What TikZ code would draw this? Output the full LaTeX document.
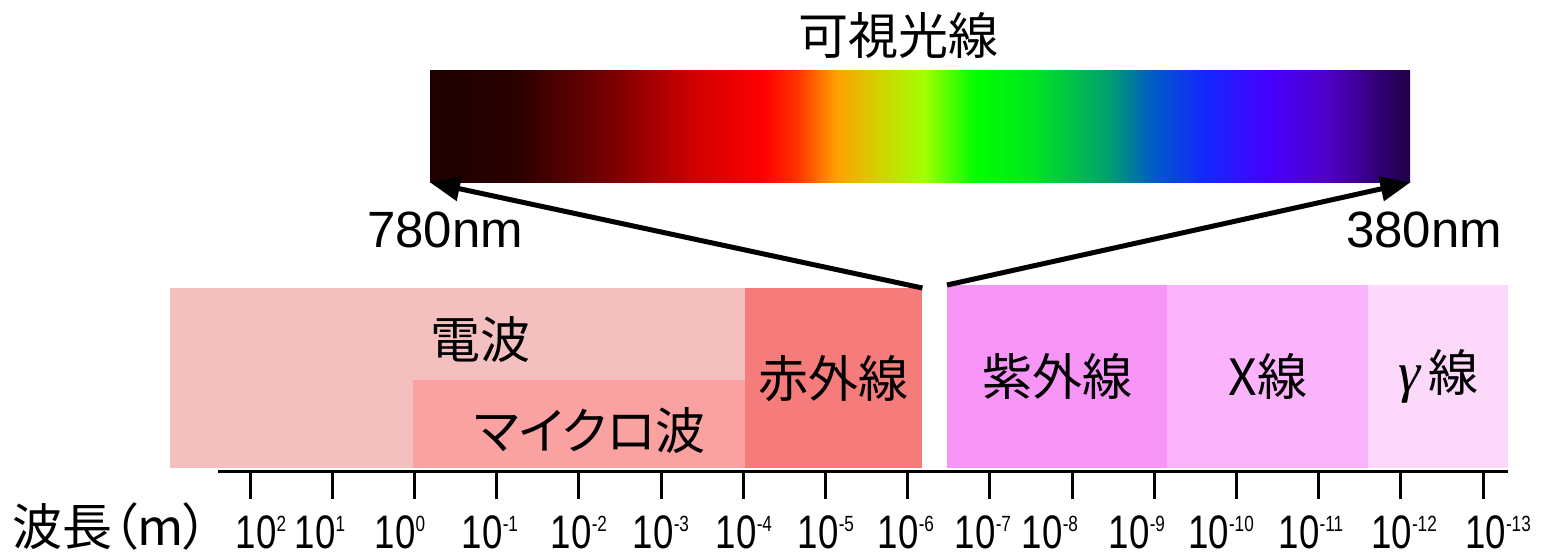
\documentclass[tikz,border=0pt]{standalone}
\usepackage{fontspec}
\setmainfont{Liberation Sans}
\newfontfamily\jp[RawFeature=+palt]{Noto Sans CJK JP}
\newfontfamily\narrowsans[FakeStretch=0.78]{Liberation Sans}
\newfontfamily\serifgk{Liberation Serif}
\usetikzlibrary{arrows.meta}

\definecolor{s0}{RGB}{30,0,0}
\definecolor{s1}{RGB}{42,0,0}
\definecolor{s2}{RGB}{120,0,0}
\definecolor{s3}{RGB}{210,0,0}
\definecolor{s4}{RGB}{255,0,0}
\definecolor{s5}{RGB}{255,50,0}
\definecolor{s6}{RGB}{255,160,0}
\definecolor{s7}{RGB}{210,210,0}
\definecolor{s8}{RGB}{160,255,0}
\definecolor{s9}{RGB}{0,255,0}
\definecolor{s10}{RGB}{0,230,30}
\definecolor{s11}{RGB}{0,160,110}
\definecolor{s12}{RGB}{0,90,200}
\definecolor{s13}{RGB}{20,40,255}
\definecolor{s14}{RGB}{70,0,255}
\definecolor{s15}{RGB}{80,0,200}
\definecolor{s16}{RGB}{50,0,120}
\definecolor{s17}{RGB}{30,0,70}

\pgfdeclarehorizontalshading{spectrum}{100bp}{%
color(0bp)=(s0); color(25bp)=(s0); color(29.4bp)=(s1); color(34.2bp)=(s2);
color(38.5bp)=(s3); color(42bp)=(s4); color(43.7bp)=(s5); color(45.7bp)=(s6);
color(47.9bp)=(s7); color(50.2bp)=(s8); color(52.8bp)=(s9); color(55.7bp)=(s10);
color(59.6bp)=(s11); color(61.9bp)=(s12); color(64.5bp)=(s13); color(67.8bp)=(s14);
color(70.7bp)=(s15); color(73.3bp)=(s16); color(75bp)=(s17); color(100bp)=(s17)}

\definecolor{radio}{RGB}{244,191,191}
\definecolor{micro}{RGB}{250,161,161}
\definecolor{infra}{RGB}{246,123,123}
\definecolor{uv}{RGB}{247,149,247}
\definecolor{xray}{RGB}{251,180,251}
\definecolor{gray1}{RGB}{252,217,251}

\tikzset{
  band/.style={draw=none, inner sep=0pt, anchor=north west, text=black,
    font=\jp\fontsize{50}{50}\selectfont},
  jplabel/.style={inner sep=0pt, text=black, font=\jp\fontsize{50}{50}\selectfont},
  nmlabel/.style={inner sep=0pt, text=black, font=\fontsize{51}{51}\selectfont},
  arr/.style={line width=5pt, -{Triangle[length=30pt,width=24pt]}},
  tickmark/.style={line width=3pt},
  axisline/.style={line width=3pt},
  numlab/.style={inner sep=0pt, anchor=base, font=\narrowsans\fontsize{47}{47}\selectfont},
}
\newcommand{\pw}[1]{10\raisebox{17pt}{\fontsize{22}{22}\selectfont #1}}

\begin{document}
\begin{tikzpicture}[x=1pt,y=-1pt]
\useasboundingbox (0,0) rectangle (1548,552);
\fill[white] (0,0) rectangle (1548,552);

% title and spectrum
\node[jplabel] (title) at (898,35) {可視光線};
\node[shade, shading=spectrum, draw=none, inner sep=0pt, minimum width=980pt,
      minimum height=112pt, anchor=north west] (vis) at (430,70) {};

% bands
\node[band, fill=radio, minimum width=575pt, minimum height=180pt] (radiobox) at (170,288) {};
\node[band, fill=micro, minimum width=332pt, minimum height=88pt] (microbox) at (413,380) {};
\node[band, fill=infra, minimum width=177pt, minimum height=180pt] (irbox) at (745,288) {赤外線};
\node[band, fill=uv, minimum width=220pt, minimum height=183pt] (uvbox) at (947,285) {紫外線};
\node[band, fill=xray, minimum width=201pt, minimum height=183pt] (xbox) at (1167,285) {X線};
\node[band, fill=gray1, minimum width=140pt, minimum height=183pt] (gbox) at (1368,285) {{\serifgk\itshape\fontsize{56}{56}\selectfont γ}\,線};

\node[jplabel] (radiolab) at (480,340) {電波};
\node[jplabel] (microlab) at (590,431) {マイクロ波};

% arrows
\draw[arr] (irbox.north east) -- (vis.south west);
\draw[arr] (uvbox.north west) -- (vis.south east);

\node[nmlabel] (n780) at (445,230) {780nm};
\node[nmlabel] (n380) at (1424,230) {380nm};

% axis
\coordinate (axs) at (218,471);
\coordinate (axe) at (1508,471);
\draw[axisline] (axs) -- (axe);
\foreach \i in {0,...,15}{
  \coordinate (t\i) at ({250+82.2*\i},471);
  \draw[tickmark] (t\i) -- ++(0,28);
}

\node[jplabel, anchor=west] (wl) at (12,526) {波長（m）};

\node[numlab] (l0) at (261,548) {\pw{2}};
\node[numlab] (l1) at (320,548) {\pw{1}};
\node[numlab] (l2) at (400,548) {\pw{0}};
\node[numlab] (l3) at (490,548) {\pw{-1}};
\node[numlab] (l4) at (579,548) {\pw{-2}};
\node[numlab] (l5) at (661,548) {\pw{-3}};
\node[numlab] (l6) at (744,548) {\pw{-4}};
\node[numlab] (l7) at (826,548) {\pw{-5}};
\node[numlab] (l8) at (906,548) {\pw{-6}};
\node[numlab] (l9) at (983,548) {\pw{-7}};
\node[numlab] (l10) at (1050,548) {\pw{-8}};
\node[numlab] (l11) at (1137,548) {\pw{-9}};
\node[numlab] (l12) at (1221,548) {\pw{-10}};
\node[numlab] (l13) at (1311,548) {\pw{-11}};
\node[numlab] (l14) at (1404,548) {\pw{-12}};
\node[numlab] (l15) at (1498,548) {\pw{-13}};
\end{tikzpicture}
\end{document}
